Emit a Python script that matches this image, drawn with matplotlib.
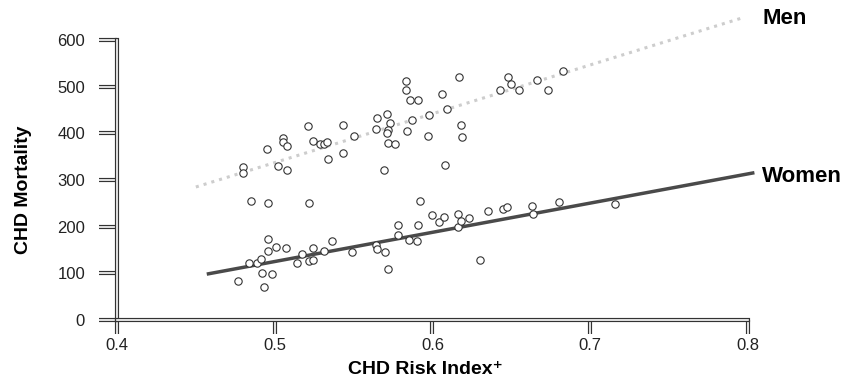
import matplotlib.pyplot as plt
import matplotlib.patheffects as pe

plt.rcParams['font.family'] = ['Liberation Sans', 'DejaVu Sans']

# CHD risk index vs CHD mortality
men_risk = [0.480, 0.480, 0.495, 0.502, 0.508, 0.505, 0.505, 0.508, 0.521, 0.524,
            0.529, 0.531, 0.533, 0.534, 0.543, 0.543, 0.550, 0.565, 0.564, 0.569,
            0.571, 0.573, 0.572, 0.571, 0.572, 0.576, 0.583, 0.583, 0.586, 0.591,
            0.587, 0.584, 0.597, 0.598, 0.606, 0.609, 0.608, 0.617, 0.618, 0.619,
            0.643, 0.648, 0.650, 0.655, 0.666, 0.673, 0.683]
men_mort = [328, 315, 366, 330, 321, 390, 381, 373, 416, 384,
            377, 377, 381, 345, 418, 358, 394, 433, 409, 321,
            441, 422, 407, 401, 379, 377, 512, 493, 471, 471,
            429, 405, 394, 439, 484, 452, 332, 521, 418, 392,
            493, 521, 506, 493, 514, 493, 534]

women_risk = [0.477, 0.484, 0.489, 0.491, 0.492, 0.493, 0.485, 0.496, 0.496, 0.496,
              0.498, 0.501, 0.507, 0.514, 0.517, 0.522, 0.522, 0.524, 0.524, 0.531,
              0.536, 0.549, 0.564, 0.565, 0.570, 0.572, 0.578, 0.578, 0.585, 0.590,
              0.591, 0.592, 0.600, 0.604, 0.607, 0.616, 0.616, 0.618, 0.623, 0.630,
              0.635, 0.645, 0.647, 0.663, 0.664, 0.680, 0.716]
women_mort = [84, 122, 122, 131, 101, 71, 255, 251, 174, 148,
              99, 156, 154, 122, 141, 251, 126, 154, 129, 148,
              169, 146, 161, 152, 146, 109, 204, 182, 171, 169,
              204, 255, 225, 210, 221, 227, 199, 212, 219, 129,
              234, 238, 242, 244, 227, 253, 249]

# regression lines (end points)
men_fit_x = [0.450, 0.796]
men_fit_y = [285, 647]
women_fit_x = [0.458, 0.803]
women_fit_y = [99, 315]

x_ticks = [0.4, 0.5, 0.6, 0.7, 0.8]
y_ticks = [0, 100, 200, 300, 400, 500, 600]

fig = plt.figure(figsize=(8.52, 3.81), dpi=100)
ax = fig.add_axes([0.1373, 0.1601, 0.7406, 0.7349])

ax.plot(men_fit_x, men_fit_y, color='#cdcdcd', lw=2.2, ls=':', clip_on=False, zorder=2)
ax.plot(women_fit_x, women_fit_y, color='#4a4a4a', lw=2.5, clip_on=False, zorder=2)

ax.plot(men_risk, men_mort, 'o', ms=5.3, mfc='white', mec='#333333', mew=0.8,
        clip_on=False, zorder=3)
ax.plot(women_risk, women_mort, 'o', ms=5.3, mfc='white', mec='#333333', mew=0.8,
        clip_on=False, zorder=3)

ax.text(men_fit_x[-1] + 0.013, men_fit_y[-1], 'Men', fontsize=16, fontweight='bold',
        va='center', ha='left', clip_on=False)
ax.text(women_fit_x[-1] + 0.006, women_fit_y[-1] - 8, 'Women', fontsize=16,
        fontweight='bold', va='center', ha='left', clip_on=False)

ax.set_xlim(0.4, 0.8)
ax.set_ylim(0, 600)
ax.set_xticks(x_ticks)
ax.set_xticklabels([str(t) for t in x_ticks])
ax.set_yticks(y_ticks)

for s in ['top', 'right']:
    ax.spines[s].set_visible(False)

hollow = [pe.Stroke(linewidth=3.0, foreground='#333333'),
          pe.Stroke(linewidth=1.2, foreground='white')]
ax.spines['left'].set_path_effects(hollow)
ax.spines['bottom'].set_path_effects(hollow)

ax.tick_params(axis='x', direction='out', length=10, width=1, pad=3, labelsize=12,
               colors='#222222')
ax.tick_params(axis='y', direction='out', length=13, width=1, pad=10, labelsize=12,
               colors='#222222')
for t in ax.xaxis.get_major_ticks() + ax.yaxis.get_major_ticks():
    t.tick1line.set_path_effects(hollow)

ax.set_xlabel('CHD Risk Index\u207a', fontsize=14, fontweight='bold')
ax.xaxis.set_label_coords(0.488, -0.148)
ax.set_ylabel('CHD Mortality', fontsize=14, fontweight='bold')
ax.yaxis.set_label_coords(-0.135, 0.464)

fig.savefig('out.png', dpi=100)
